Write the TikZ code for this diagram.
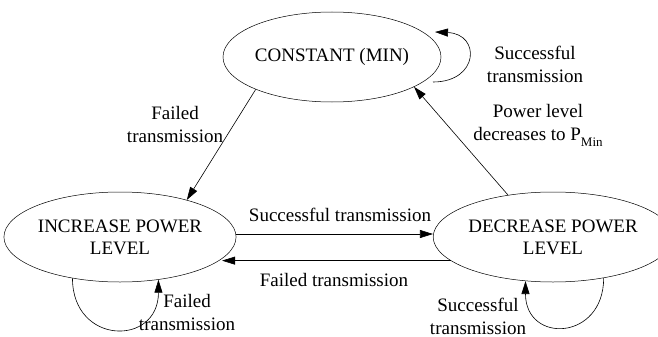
\documentclass[tikz,border=0pt]{standalone}
\usepackage{fontspec}
\setmainfont{Liberation Serif}
\usetikzlibrary{arrows.meta,shapes.geometric}
\begin{document}
\begin{tikzpicture}[x=1pt,y=-1pt,
  state/.style={draw, line width=0.5pt, ellipse, inner sep=0pt, align=center,
    font=\fontsize{19}{22}\selectfont},
  lbl/.style={align=center, inner sep=0pt, font=\fontsize{19}{23}\selectfont},
  arr/.style={line width=0.6pt, -{Triangle[length=13pt,width=8pt]}}]
\useasboundingbox (0,0) rectangle (658,337);
\node[state, minimum width=214pt, minimum height=90pt] (const) at (332,57) {CONSTANT (MIN)};
\node[state, minimum width=214pt, minimum height=90pt] (inc) at (120,237) {INCREASE POWER\\LEVEL};
\node[state, minimum width=208pt, minimum height=90pt] (dec) at (553,237) {DECREASE POWER\\LEVEL};
% labels
\node[lbl] (l1) at (175,125) {Failed\\transmission};
\node[lbl] (l2) at (538,125) {Power level\\decreases to P\raisebox{-6pt}{\fontsize{13}{13}\selectfont Min}};
\node[lbl] (l3) at (535,64) {Successful\\transmission};
\node[lbl] (l4) at (340,215) {Successful transmission};
\node[lbl] (l5) at (334,280) {Failed transmission};
\node[lbl] (l6) at (187,312) {Failed\\transmission};
\node[lbl] (l7) at (478,316) {Successful\\transmission};
% connectors
\draw[arr] (const.203.7) -- (inc.29.6);
\draw[arr] (dec.137) -- (const.-20.3);
\draw[arr] ([yshift=3pt]inc.east) -- ([yshift=3pt]dec.west);
\draw[arr] (dec.193) -- (inc.-12 |- dec.193);
% self loops
\draw[arr] ([shift={(101,25)}]const.center) .. controls +(46,0) and +(46,2) .. ([shift={(103,-25)}]const.center);
\draw[arr] (inc.-139.3) .. controls +(0,67) and +(0,67) .. (inc.-48.8);
\draw[arr] (dec.-39) .. controls +(0,63) and +(0,63) .. (dec.-122.9);
\end{tikzpicture}
\end{document}
